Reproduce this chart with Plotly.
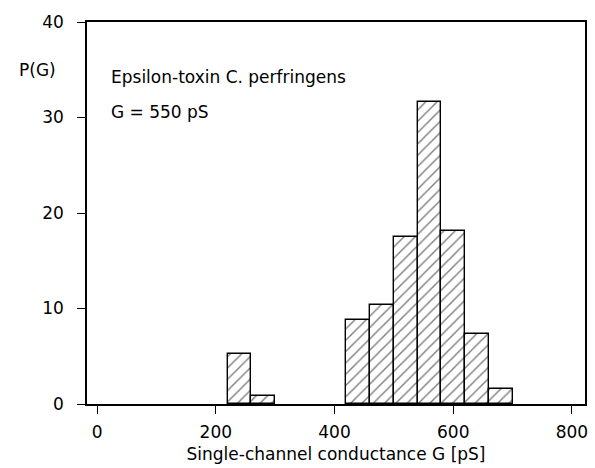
import plotly.graph_objects as go

bin_left = [220, 260, 420, 460, 500, 540, 580, 620, 660]
prob = [5.2, 0.8, 8.8, 10.4, 17.5, 31.6, 18.1, 7.3, 1.6]
bin_width = 40
x_ticks = [0, 200, 400, 600, 800]
y_ticks = [0, 10, 20, 30, 40]

centers = [b + bin_width / 2 for b in bin_left]
FONT = "DejaVu Sans, Liberation Sans, sans-serif"

fig = go.Figure()
fig.add_trace(go.Bar(
    x=centers, y=prob, width=[bin_width] * len(centers),
    marker=dict(color="white", line=dict(color="black", width=1.4),
                pattern=dict(shape="/", fgcolor="black", bgcolor="white", size=8, solidity=0.18)),
    showlegend=False,
))

axis_common = dict(showline=True, linecolor="black", linewidth=1.5, mirror=True,
                   ticks="outside", ticklen=8, tickwidth=1.2, tickcolor="black",
                   showgrid=False, zeroline=False,
                   tickfont=dict(family=FONT, size=17, color="black"))

fig.update_layout(
    width=595, height=468,
    margin=dict(l=87, r=7, t=22, b=64),
    paper_bgcolor="white", plot_bgcolor="white",
    font=dict(family=FONT, color="black"),
    xaxis=dict(range=[-17, 822], tickvals=x_ticks, ticklabelstandoff=4, **axis_common,
               title=dict(text="Single-channel conductance G [pS]", standoff=7,
                          font=dict(family=FONT, size=17, color="black"))),
    yaxis=dict(range=[0, 40], tickvals=y_ticks, ticklabelstandoff=10, **axis_common),
    bargap=0,
)

fig.add_annotation(text="P(G)", xref="paper", yref="paper", x=-0.14, y=0.875,
                   xanchor="left", yanchor="middle", showarrow=False,
                   font=dict(family=FONT, size=17, color="black"))
fig.add_annotation(text="Epsilon-toxin C. perfringens", xref="paper", yref="paper",
                   x=0.044, y=0.855, xanchor="left", yanchor="middle", showarrow=False,
                   font=dict(family=FONT, size=17, color="black"))
fig.add_annotation(text="G = 550 pS", xref="paper", yref="paper",
                   x=0.044, y=0.765, xanchor="left", yanchor="middle", showarrow=False,
                   font=dict(family=FONT, size=17, color="black"))

fig.write_html("out.html")
